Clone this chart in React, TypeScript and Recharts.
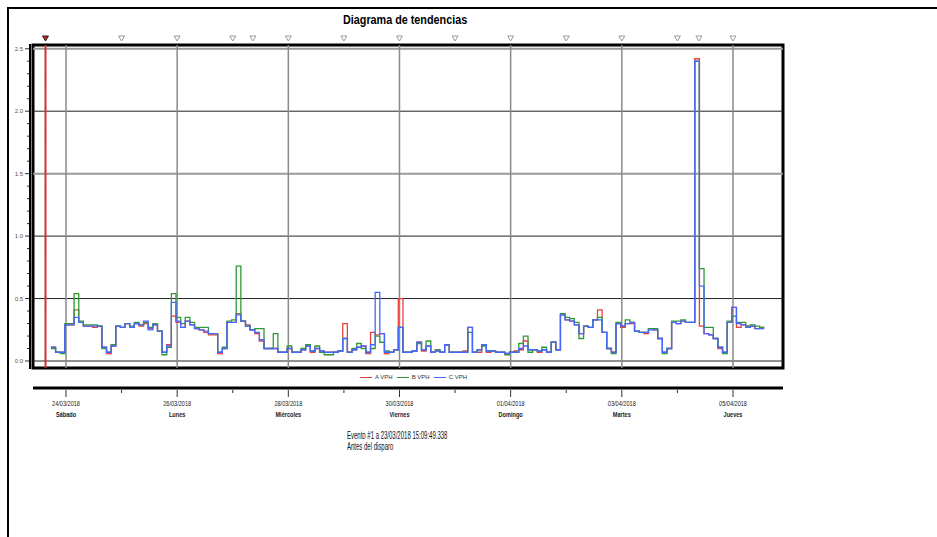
import { LineChart, Line, XAxis, YAxis, ReferenceLine, ReferenceArea, ReferenceDot, Legend } from "recharts";

const FONT = "'Liberation Sans', Arial, sans-serif";

// hours counted from 24/03/2018 00:00, one reading every 2 h
const firstHour = -6.5;
const stepHours = 2;

const aVph = [
  0.11, 0.07, 0.07, 0.29, 0.29, 0.41, 0.31, 0.28, 0.28, 0.27,
  0.28, 0.11, 0.06, 0.12, 0.28, 0.27, 0.3, 0.27, 0.3, 0.28,
  0.3, 0.26, 0.29, 0.24, 0.07, 0.13, 0.36, 0.31, 0.27, 0.32,
  0.29, 0.26, 0.25, 0.23, 0.21, 0.21, 0.06, 0.1, 0.31, 0.31,
  0.38, 0.32, 0.29, 0.25, 0.22, 0.16, 0.1, 0.1, 0.1, 0.07,
  0.07, 0.1, 0.07, 0.07, 0.09, 0.12, 0.07, 0.1, 0.08, 0.07,
  0.07, 0.07, 0.08, 0.3, 0.07, 0.09, 0.11, 0.12, 0.06, 0.23,
  0.21, 0.22, 0.06, 0.07, 0.09, 0.5, 0.07, 0.07, 0.08, 0.15,
  0.08, 0.12, 0.07, 0.08, 0.07, 0.13, 0.07, 0.07, 0.07, 0.08,
  0.27, 0.07, 0.07, 0.13, 0.07, 0.08, 0.07, 0.07, 0.06, 0.07,
  0.08, 0.09, 0.16, 0.09, 0.09, 0.07, 0.09, 0.07, 0.15, 0.09,
  0.37, 0.33, 0.32, 0.29, 0.22, 0.28, 0.27, 0.33, 0.41, 0.23,
  0.1, 0.07, 0.3, 0.27, 0.3, 0.3, 0.24, 0.23, 0.22, 0.26,
  0.25, 0.18, 0.07, 0.1, 0.31, 0.3, 0.32, 0.31, 0.31, 2.42,
  0.28, 0.22, 0.21, 0.18, 0.1, 0.07, 0.31, 0.43, 0.27, 0.29,
  0.28, 0.28, 0.26, 0.27, 0.27,
];

const bVph = [
  0.1, 0.07, 0.06, 0.3, 0.3, 0.54, 0.32, 0.29, 0.29, 0.29,
  0.28, 0.1, 0.07, 0.13, 0.28, 0.27, 0.3, 0.28, 0.31, 0.29,
  0.31, 0.27, 0.3, 0.24, 0.05, 0.11, 0.54, 0.35, 0.3, 0.35,
  0.31, 0.27, 0.27, 0.27, 0.22, 0.22, 0.07, 0.11, 0.32, 0.33,
  0.76, 0.32, 0.28, 0.25, 0.26, 0.26, 0.1, 0.1, 0.22, 0.07,
  0.07, 0.12, 0.07, 0.07, 0.1, 0.13, 0.08, 0.12, 0.07, 0.05,
  0.05, 0.07, 0.08, 0.18, 0.07, 0.1, 0.14, 0.1, 0.07, 0.1,
  0.2, 0.15, 0.08, 0.07, 0.09, 0.27, 0.07, 0.07, 0.08, 0.14,
  0.09, 0.16, 0.07, 0.09, 0.07, 0.13, 0.07, 0.07, 0.07, 0.07,
  0.23, 0.07, 0.09, 0.12, 0.08, 0.08, 0.07, 0.07, 0.05, 0.07,
  0.07, 0.14, 0.2, 0.07, 0.09, 0.08, 0.11, 0.07, 0.15, 0.09,
  0.38, 0.35, 0.34, 0.31, 0.18, 0.28, 0.27, 0.33, 0.35, 0.23,
  0.1, 0.06, 0.31, 0.28, 0.33, 0.31, 0.24, 0.23, 0.23, 0.26,
  0.26, 0.18, 0.06, 0.1, 0.32, 0.32, 0.33, 0.31, 0.31, 2.4,
  0.74, 0.27, 0.27, 0.18, 0.11, 0.06, 0.32, 0.36, 0.31, 0.31,
  0.28, 0.29, 0.28, 0.27, 0.27,
];

const cVph = [
  0.11, 0.07, 0.07, 0.29, 0.29, 0.35, 0.31, 0.28, 0.28, 0.28,
  0.28, 0.11, 0.07, 0.12, 0.28, 0.27, 0.3, 0.27, 0.3, 0.29,
  0.32, 0.25, 0.29, 0.24, 0.07, 0.12, 0.47, 0.32, 0.27, 0.32,
  0.29, 0.26, 0.25, 0.24, 0.22, 0.22, 0.07, 0.1, 0.31, 0.31,
  0.37, 0.32, 0.28, 0.25, 0.23, 0.17, 0.1, 0.1, 0.1, 0.07,
  0.07, 0.1, 0.07, 0.07, 0.09, 0.12, 0.08, 0.1, 0.08, 0.07,
  0.07, 0.07, 0.08, 0.18, 0.07, 0.09, 0.11, 0.12, 0.07, 0.13,
  0.55, 0.22, 0.07, 0.07, 0.09, 0.27, 0.07, 0.07, 0.08, 0.15,
  0.09, 0.12, 0.07, 0.08, 0.07, 0.13, 0.07, 0.07, 0.07, 0.07,
  0.27, 0.07, 0.09, 0.13, 0.08, 0.08, 0.07, 0.07, 0.06, 0.07,
  0.07, 0.1, 0.12, 0.09, 0.09, 0.08, 0.09, 0.07, 0.15, 0.09,
  0.37, 0.33, 0.32, 0.29, 0.22, 0.28, 0.27, 0.33, 0.33, 0.23,
  0.1, 0.07, 0.3, 0.28, 0.3, 0.31, 0.24, 0.23, 0.23, 0.25,
  0.25, 0.18, 0.07, 0.1, 0.31, 0.3, 0.32, 0.31, 0.31, 2.4,
  0.6, 0.22, 0.21, 0.18, 0.11, 0.07, 0.31, 0.43, 0.3, 0.29,
  0.27, 0.28, 0.26, 0.26, 0.26,
];

const dayTicks = [0, 24, 48, 72, 96, 120, 144, 168, 192, 216, 240, 264, 288];
const dateLabels = ["24/03/2018", "", "26/03/2018", "", "28/03/2018", "", "30/03/2018", "", "01/04/2018", "", "03/04/2018", "", "05/04/2018"];
const dayNames = ["Sábado", "", "Lunes", "", "Miércoles", "", "Viernes", "", "Domingo", "", "Martes", "", "Jueves"];
const gridDays = [0, 48, 96, 144, 192, 240, 288];
const yTicks = [0, 0.1, 0.2, 0.3, 0.4, 0.5, 0.6, 0.7, 0.8, 0.9, 1.0, 1.1, 1.2, 1.3, 1.4, 1.5, 1.6, 1.7, 1.8, 1.9, 2.0, 2.1, 2.2, 2.3, 2.4, 2.5];
const darkLevels = [0, 0.5, 1.0, 2.0];
const greyLevels = [1.5, 2.5];
const markerHours = [24, 48, 72, 80.7, 96, 120, 144, 168, 192, 216, 240, 264, 273.3, 288];
const eventHour = -8.85;
const xDomain = [-14.25, 309.6];
const yDomain = [-0.056, 2.53];

const data = cVph.map((c, i) => ({ t: firstHour + i * stepHours, a: aVph[i], b: bVph[i], c }));

const YTick = ({ y, payload }: any) => {
  const v = payload.value;
  const major = Math.abs(v * 2 - Math.round(v * 2)) < 1e-6;
  return (
    <g>
      <line x1={major ? 25 : 27} x2={30} y1={y} y2={y} stroke="#333" strokeWidth={1} />
      {major && (
        <text x={23} y={y + 2} textAnchor="end" fontSize={6} fill="#555" fontFamily={FONT}>
          {v.toFixed(1)}
        </text>
      )}
    </g>
  );
};

const DateTick = ({ x, y, payload }: any) => {
  const i = dayTicks.indexOf(payload.value);
  const labelled = dateLabels[i] !== "";
  return (
    <g>
      <line x1={x} x2={x} y1={y + 2} y2={y + (labelled ? 9 : 5)} stroke="#333" strokeWidth={1} />
      {labelled && (
        <g transform={`translate(${x},${y})`}>
          <text x={0} y={18} transform="scale(0.86,1)" textAnchor="middle" fontSize={6.5} fill="#222" fontFamily={FONT}>
            {dateLabels[i]}
          </text>
          <text x={0} y={29} transform="scale(0.86,1)" textAnchor="middle" fontSize={6.5} fontWeight="bold" fill="#222" fontFamily={FONT}>
            {dayNames[i]}
          </text>
        </g>
      )}
    </g>
  );
};

const Marker = ({ cx, cy, fill, stroke }: any) => (
  <path d={`M${cx - 3},${cy - 9} L${cx + 3},${cy - 9} L${cx},${cy - 4} Z`} fill={fill} stroke={stroke} strokeWidth={1} />
);

const LegendContent = ({ payload }: any) => (
  <div style={{ display: "flex", gap: 4, fontFamily: FONT, fontSize: 6, color: "#333", alignItems: "center" }}>
    {(payload || []).map((p: any) => (
      <span key={p.value} style={{ display: "flex", alignItems: "center", gap: 3 }}>
        <span style={{ display: "inline-block", width: 12, height: 1, background: p.color }} />
        {p.value}
      </span>
    ))}
  </div>
);

export default function App() {
  return (
    <div style={{ position: "absolute", left: 0, top: 0, width: 937, height: 537, background: "#fff", overflow: "hidden" }}>
      <LineChart width={937} height={537} data={data} margin={{ top: 45, right: 154, bottom: 119, left: 8 }}>
        <XAxis xAxisId={0} dataKey="t" type="number" domain={xDomain} allowDataOverflow height={20} tick={false} axisLine={false} tickLine={false} />
        <XAxis
          xAxisId="d"
          dataKey="t"
          type="number"
          domain={xDomain}
          allowDataOverflow
          height={30}
          ticks={dayTicks}
          interval={0}
          tickSize={0}
          tickMargin={0}
          tickLine={false}
          axisLine={{ stroke: "#000", strokeWidth: 3 }}
          tick={<DateTick />}
        />
        <YAxis type="number" domain={yDomain} allowDataOverflow width={25} ticks={yTicks} interval={0} axisLine={false} tickLine={false} tick={<YTick />} />
        {greyLevels.map((v) => (
          <ReferenceLine key={"g" + v} y={v} stroke="#9a9a9a" strokeWidth={2} />
        ))}
        {darkLevels.map((v) => (
          <ReferenceLine key={"d" + v} y={v} stroke="#222" strokeWidth={1} />
        ))}
        {gridDays.map((d) => (
          <ReferenceLine key={"v" + d} x={d} stroke="#8a8a8a" strokeWidth={1.5} />
        ))}
        <ReferenceLine x={eventHour} stroke="#d83030" strokeWidth={2} />
        <ReferenceLine x={eventHour} stroke="#555" strokeWidth={1} strokeDasharray="2 5" />
        <Line name="A VPH" type="stepAfter" dataKey="a" stroke="#e8413c" strokeWidth={1.3} dot={false} isAnimationActive={false} />
        <Line name="B VPH" type="stepAfter" dataKey="b" stroke="#2f9a35" strokeWidth={1.3} dot={false} isAnimationActive={false} />
        <Line name="C VPH" type="stepAfter" dataKey="c" stroke="#4667ff" strokeWidth={1.3} dot={false} isAnimationActive={false} />
        <ReferenceArea x1={xDomain[0]} x2={xDomain[1]} y1={yDomain[0]} y2={yDomain[1]} fill="none" stroke="#000" strokeWidth={3} ifOverflow="visible" />
        {markerHours.map((h) => (
          <ReferenceDot key={"m" + h} x={h} y={yDomain[1]} ifOverflow="visible" fill="#fff" stroke="#999" shape={<Marker />} />
        ))}
        <ReferenceDot x={eventHour} y={yDomain[1]} ifOverflow="visible" fill="#d02020" stroke="#222" shape={<Marker />} />
        <Legend layout="horizontal" verticalAlign="middle" align="center" wrapperStyle={{ top: 374, left: 360, width: 110, height: 10 }} content={<LegendContent />} />
      </LineChart>
      <div style={{ position: "absolute", left: 7, top: 7, right: -30, bottom: -30, borderTop: "2px solid #000", borderLeft: "2px solid #000", pointerEvents: "none" }} />
      <div style={{ position: "absolute", left: 29, top: 44, width: 2, height: 325, background: "#000" }} />
      <div style={{ position: "absolute", left: 343, top: 12, whiteSpace: "nowrap", fontFamily: FONT, fontWeight: "bold", fontSize: 13, transform: "scaleX(0.83)", transformOrigin: "left top" }}>
        Diagrama de tendencias
      </div>
      <div style={{ position: "absolute", left: 347, top: 430, whiteSpace: "nowrap", fontFamily: FONT, fontSize: 10, lineHeight: "11px", color: "#111", transform: "scaleX(0.6)", transformOrigin: "left top" }}>
        <div>Evento #1 a 23/03/2018 15:09:49.338</div>
        <div>Antes del disparo</div>
      </div>
    </div>
  );
}
